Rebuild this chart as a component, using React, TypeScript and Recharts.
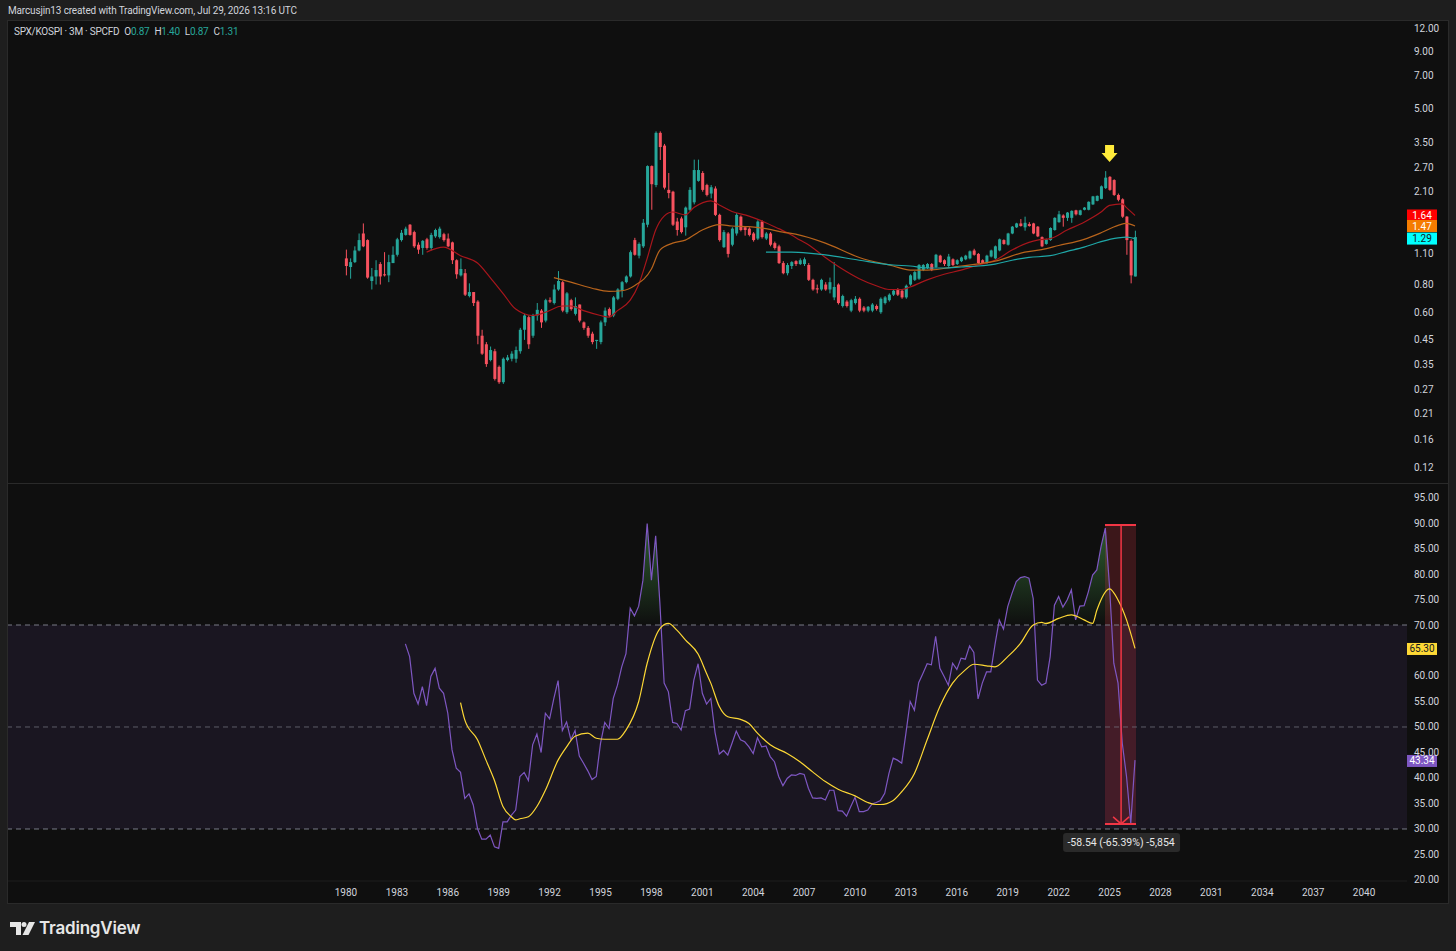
import React from "react";
import {
    ComposedChart,
    Bar,
    Line,
    Area,
    XAxis,
    YAxis,
    ReferenceArea,
    ReferenceLine,
    ReferenceDot,
} from "recharts";

// quarterly bars, bar 0 = 1980 Q1
const FIRST_YEAR = 1980;
const QUARTER = 0.25;

const opens = [
    1.05, 0.96, 1.01, 1.14, 1.36, 1.27, 0.83, 0.87, 0.99, 0.89,
    0.88, 1.00, 1.09, 1.27, 1.34, 1.49, 1.38, 1.21, 1.17, 1.28,
    1.17, 1.32, 1.31, 1.35, 1.29, 1.24, 1.03, 0.88, 0.90, 0.71,
    0.74, 0.67, 0.47, 0.43, 0.365, 0.40, 0.34, 0.29, 0.365, 0.37,
    0.37, 0.40, 0.50, 0.57, 0.47, 0.58, 0.61, 0.55, 0.68, 0.66,
    0.76, 0.82, 0.60, 0.68, 0.59, 0.65, 0.54, 0.51, 0.48, 0.445,
    0.44, 0.54, 0.62, 0.58, 0.69, 0.75, 0.82, 0.87, 1.27, 1.08,
    1.19, 1.49, 2.74, 2.25, 3.87, 3.39, 2.14, 2.10, 1.54, 1.59,
    1.45, 1.74, 1.88, 2.35, 2.55, 2.25, 2.06, 2.17, 1.65, 1.18,
    1.36, 1.21, 1.36, 1.62, 1.45, 1.43, 1.36, 1.29, 1.54, 1.29,
    1.36, 1.23, 1.19, 1.00, 0.90, 0.97, 1.02, 0.99, 0.99, 0.98,
    0.84, 0.77, 0.76, 0.80, 0.76, 0.70, 0.80, 0.64, 0.67, 0.61,
    0.66, 0.69, 0.63, 0.61, 0.61, 0.64, 0.60, 0.66, 0.68, 0.72,
    0.755, 0.75, 0.70, 0.80, 0.84, 0.85, 0.93, 0.95, 0.99, 0.96,
    1.08, 1.03, 0.97, 1.04, 0.99, 1.02, 1.04, 1.05, 1.14, 1.10,
    1.03, 1.00, 1.07, 1.05, 1.14, 1.27, 1.21, 1.36, 1.45, 1.51,
    1.45, 1.50, 1.51, 1.46, 1.31, 1.22, 1.27, 1.41, 1.53, 1.64,
    1.60, 1.60, 1.73, 1.65, 1.74, 1.74, 1.84, 1.91, 1.95, 2.18,
    2.45, 2.37, 2.03, 1.94, 1.62, 1.26, 0.87,
];
const highs = [
    1.15, 1.05, 1.19, 1.36, 1.51, 1.28, 0.95, 1.03, 1.01, 1.12,
    1.09, 1.19, 1.30, 1.41, 1.46, 1.50, 1.40, 1.24, 1.27, 1.30,
    1.37, 1.43, 1.46, 1.37, 1.36, 1.25, 1.04, 1.05, 0.94, 0.81,
    0.74, 0.68, 0.50, 0.44, 0.42, 0.41, 0.345, 0.375, 0.385, 0.40,
    0.42, 0.51, 0.59, 0.58, 0.59, 0.66, 0.62, 0.69, 0.70, 0.80,
    0.92, 0.83, 0.74, 0.69, 0.70, 0.65, 0.545, 0.52, 0.49, 0.45,
    0.55, 0.63, 0.63, 0.71, 0.77, 0.83, 0.88, 1.14, 1.30, 1.24,
    1.58, 2.76, 2.76, 3.93, 3.93, 3.45, 2.55, 2.12, 1.60, 1.62,
    1.80, 2.20, 2.93, 2.93, 2.60, 2.28, 2.25, 2.22, 1.67, 1.41,
    1.38, 1.45, 1.68, 1.64, 1.47, 1.45, 1.38, 1.56, 1.56, 1.38,
    1.38, 1.25, 1.21, 1.02, 1.00, 1.02, 1.03, 1.05, 1.06, 1.00,
    0.85, 0.80, 0.85, 0.82, 0.86, 1.01, 0.81, 0.72, 0.68, 0.69,
    0.71, 0.70, 0.64, 0.64, 0.66, 0.65, 0.70, 0.71, 0.73, 0.76,
    0.77, 0.76, 0.80, 0.89, 0.92, 0.99, 0.99, 1.00, 1.00, 1.10,
    1.09, 1.04, 1.10, 1.05, 1.04, 1.07, 1.09, 1.14, 1.16, 1.11,
    1.04, 1.09, 1.15, 1.20, 1.29, 1.28, 1.37, 1.47, 1.52, 1.58,
    1.62, 1.53, 1.52, 1.47, 1.32, 1.29, 1.45, 1.61, 1.72, 1.66,
    1.70, 1.73, 1.74, 1.74, 1.79, 1.90, 2.01, 2.02, 2.24, 2.60,
    2.47, 2.39, 2.06, 1.96, 1.63, 1.28, 1.40,
];
const lows = [
    0.88, 0.85, 1.00, 1.13, 1.18, 0.85, 0.76, 0.80, 0.80, 0.87,
    0.82, 1.00, 1.07, 1.25, 1.33, 1.33, 1.17, 1.10, 1.09, 1.15,
    1.14, 1.30, 1.29, 1.25, 1.18, 0.99, 0.85, 0.87, 0.71, 0.70,
    0.64, 0.43, 0.385, 0.34, 0.36, 0.295, 0.285, 0.285, 0.36, 0.36,
    0.355, 0.39, 0.45, 0.41, 0.46, 0.55, 0.51, 0.54, 0.66, 0.65,
    0.75, 0.60, 0.59, 0.61, 0.58, 0.54, 0.50, 0.46, 0.43, 0.41,
    0.43, 0.52, 0.57, 0.57, 0.68, 0.70, 0.81, 0.86, 1.08, 1.05,
    1.17, 1.45, 1.74, 2.20, 2.92, 2.15, 1.96, 1.47, 1.33, 1.36,
    1.33, 1.72, 1.84, 2.33, 2.10, 2.00, 1.96, 1.63, 1.25, 1.17,
    1.06, 1.19, 1.33, 1.39, 1.33, 1.32, 1.25, 1.27, 1.29, 1.27,
    1.19, 1.15, 0.99, 0.89, 0.88, 0.94, 0.97, 0.98, 0.97, 0.83,
    0.75, 0.73, 0.75, 0.75, 0.73, 0.68, 0.65, 0.63, 0.63, 0.60,
    0.65, 0.60, 0.60, 0.60, 0.60, 0.61, 0.59, 0.65, 0.67, 0.71,
    0.71, 0.69, 0.69, 0.79, 0.83, 0.84, 0.92, 0.94, 0.92, 0.95,
    1.00, 0.97, 0.95, 0.97, 0.98, 1.01, 1.03, 1.04, 1.08, 0.99,
    0.99, 0.99, 1.06, 1.04, 1.13, 1.21, 1.20, 1.35, 1.44, 1.46,
    1.40, 1.46, 1.35, 1.31, 1.18, 1.21, 1.26, 1.40, 1.52, 1.46,
    1.55, 1.52, 1.64, 1.64, 1.73, 1.73, 1.83, 1.90, 1.94, 2.16,
    2.12, 2.01, 1.90, 1.60, 1.09, 0.81, 0.87,
];
const closes = [
    0.97, 1.01, 1.14, 1.27, 1.19, 0.86, 0.87, 0.93, 0.87, 0.88,
    1.01, 1.09, 1.28, 1.37, 1.43, 1.34, 1.19, 1.15, 1.26, 1.17,
    1.34, 1.41, 1.43, 1.27, 1.19, 1.03, 0.89, 0.94, 0.72, 0.74,
    0.66, 0.47, 0.39, 0.35, 0.405, 0.30, 0.29, 0.37, 0.375, 0.39,
    0.405, 0.50, 0.58, 0.43, 0.58, 0.615, 0.54, 0.68, 0.67, 0.76,
    0.83, 0.61, 0.73, 0.62, 0.64, 0.55, 0.51, 0.47, 0.44, 0.45,
    0.54, 0.61, 0.58, 0.70, 0.76, 0.82, 0.87, 1.12, 1.09, 1.22,
    1.52, 2.74, 2.27, 3.87, 3.34, 2.19, 2.07, 1.49, 1.41, 1.38,
    1.78, 2.14, 2.63, 2.63, 2.14, 2.03, 2.20, 1.65, 1.27, 1.38,
    1.10, 1.43, 1.65, 1.41, 1.41, 1.34, 1.27, 1.54, 1.31, 1.36,
    1.21, 1.17, 1.00, 0.90, 0.98, 1.01, 0.99, 1.03, 1.04, 0.84,
    0.76, 0.76, 0.84, 0.76, 0.82, 0.78, 0.66, 0.71, 0.64, 0.68,
    0.69, 0.61, 0.61, 0.635, 0.65, 0.62, 0.69, 0.70, 0.72, 0.75,
    0.72, 0.70, 0.79, 0.88, 0.91, 0.98, 0.98, 0.99, 0.93, 1.09,
    1.01, 0.99, 1.07, 0.98, 1.03, 1.06, 1.08, 1.13, 1.09, 1.00,
    1.00, 1.08, 1.14, 1.19, 1.28, 1.22, 1.36, 1.46, 1.51, 1.47,
    1.52, 1.47, 1.36, 1.32, 1.19, 1.28, 1.44, 1.60, 1.66, 1.60,
    1.69, 1.72, 1.66, 1.73, 1.78, 1.89, 2.00, 2.01, 2.22, 2.43,
    2.14, 2.03, 1.93, 1.62, 1.27, 0.88, 1.31,
];

// moving averages: [bar index, value]
const maFast: [number, number][] = [
    [19, 1.12], [23, 1.18], [27, 1.08], [31, 1.0], [34, 0.86], [37, 0.73], [40, 0.62],
    [44, 0.58], [47, 0.6], [51, 0.64], [53, 0.64], [56, 0.61], [60, 0.58], [62, 0.57],
    [64, 0.61], [67, 0.68], [69, 0.8], [71, 1.05], [73, 1.41], [75, 1.63], [77, 1.7],
    [80, 1.65], [82, 1.78], [86, 1.91], [88, 1.83], [91, 1.71], [95, 1.63], [98, 1.55],
    [102, 1.43], [105, 1.34], [107, 1.27], [109, 1.21], [113, 1.06], [117, 0.94],
    [121, 0.85], [125, 0.79], [128, 0.76], [131, 0.76], [133, 0.78], [137, 0.84],
    [141, 0.89], [145, 0.93], [149, 0.98], [153, 1.03], [157, 1.145], [161, 1.24],
    [163, 1.27], [166, 1.29], [170, 1.41], [174, 1.53], [178, 1.7], [180, 1.82],
    [183, 1.85], [184, 1.78], [186, 1.64],
];
const maMid: [number, number][] = [
    [49, 0.86], [53, 0.82], [58, 0.77], [62, 0.745], [65, 0.75], [68, 0.79], [72, 0.94],
    [74, 1.145], [77, 1.23], [80, 1.27], [84, 1.41], [88, 1.49], [91, 1.47], [95, 1.46],
    [99, 1.43], [103, 1.38], [106, 1.35], [113, 1.23], [121, 1.06], [129, 0.97],
    [133, 0.93], [137, 0.93], [145, 0.97], [153, 1.02], [160, 1.12], [164, 1.15],
    [168, 1.2], [174, 1.28], [178, 1.37], [182, 1.48], [184, 1.51], [186, 1.47],
];
const maSlow: [number, number][] = [
    [99, 1.12], [105, 1.12], [109, 1.11], [113, 1.09], [121, 1.03], [129, 0.98],
    [133, 0.97], [137, 0.95], [141, 0.95], [145, 0.96], [149, 0.97], [153, 0.99],
    [157, 1.03], [161, 1.06], [166, 1.08], [170, 1.13], [174, 1.18], [178, 1.25],
    [182, 1.3], [184, 1.31], [186, 1.29],
];

// RSI, first value on bar 14
const RSI_FIRST_BAR = 14;
const rsiValues = [
    66.3, 63.8, 56.6, 54.5, 57.9, 54.2, 59.9, 61.5, 57.6, 56.6,
    52.7, 45.5, 41.9, 41.1, 36.0, 36.9, 34.7, 30.1, 28.0, 28.0,
    28.8, 26.5, 26.2, 31.4, 31.4, 32.7, 33.7, 40.3, 41.1, 39.5,
    46.5, 48.6, 45.0, 52.7, 51.6, 55.6, 59.1, 49.3, 51.0, 47.5,
    49.3, 44.3, 42.9, 41.4, 39.7, 40.3, 46.8, 50.9, 49.7, 55.6,
    58.2, 61.8, 64.4, 73.3, 71.8, 73.7, 78.8, 89.9, 78.8, 87.5,
    74.2, 58.6, 56.9, 50.9, 50.7, 49.4, 53.2, 53.5, 59.2, 62.4,
    56.6, 54.5, 55.6, 48.9, 44.7, 45.4, 44.5, 46.8, 49.2, 47.5,
    47.1, 46.1, 44.8, 47.9, 46.1, 46.3, 44.2, 43.2, 40.3, 38.5,
    39.9, 40.6, 40.5, 40.9, 40.7, 38.0, 36.1, 36.0, 36.1, 35.7,
    37.6, 37.6, 33.6, 33.5, 32.5, 34.4, 36.2, 33.4, 33.4, 33.7,
    34.9, 35.2, 35.6, 37.0, 40.9, 43.9, 43.5, 42.9, 48.8, 55.0,
    53.3, 58.7, 60.5, 62.4, 62.2, 67.8, 61.5, 59.9, 58.2, 62.5,
    61.3, 63.5, 63.3, 65.9, 64.6, 55.5, 58.6, 60.8, 60.8, 66.2,
    71.0, 69.2, 73.6, 76.2, 78.5, 79.3, 79.5, 79.2, 75.2, 59.2,
    58.2, 58.6, 63.8, 73.9, 75.6, 73.5, 74.9, 76.9, 71.0, 73.7,
    73.8, 76.5, 79.8, 80.8, 85.4, 89.0, 77.5, 62.5, 58.6, 46.8,
    40.3, 31.1, 43.5,
];
// RSI-based MA: [bar index, value]
const rsiMa: [number, number][] = [
    [27, 54.8], [28, 51.4], [31, 47.5], [33, 43.5], [35, 39.5], [37, 34.4], [39, 32.4],
    [40, 31.8], [41, 32.0], [43, 32.4], [45, 34.4], [47, 37.6], [50, 43.5], [52, 46.1],
    [54, 48.2], [57, 48.8], [59, 47.8], [61, 47.6], [64, 47.6], [66, 49.4], [69, 55.0],
    [71, 62.5], [74, 69.3], [76, 70.3], [78, 69.0], [80, 67.1], [83, 64.3], [85, 60.5],
    [86, 58.6], [88, 54.0], [90, 52.0], [93, 51.5], [95, 50.7], [97, 48.8], [100, 46.5],
    [104, 44.8], [107, 43.2], [110, 41.2], [113, 39.3], [116, 37.8], [120, 36.5],
    [123, 35.2], [125, 34.8], [126, 34.8], [129, 35.6], [131, 37.3], [134, 40.9],
    [137, 47.5], [140, 54.0], [143, 58.6], [146, 61.2], [148, 62.3], [151, 62.0],
    [153, 61.8], [156, 63.8], [159, 66.4], [162, 70.0], [164, 70.5], [165, 70.3],
    [168, 71.3], [171, 72.0], [172, 71.8], [174, 71.0], [176, 70.3], [177, 72.9],
    [180, 77.1], [182, 74.9], [184, 71.0], [186, 65.4],
];

const yearTicks = [1980, 1983, 1986, 1989, 1992, 1995, 1998, 2001, 2004, 2007, 2010,
    2013, 2016, 2019, 2022, 2025, 2028, 2031, 2034, 2037, 2040];
const priceTicks = [12, 9, 7, 5, 3.5, 2.7, 2.1, 1.1, 0.8, 0.6, 0.45, 0.35, 0.27, 0.21, 0.16, 0.12];
const rsiTicks = [95, 90, 85, 80, 75, 70, 60, 55, 50, 45, 40, 35, 30, 25, 20];

const maTags = [
    {value: 1.64, bg: "#ff0000", fg: "#ffffff"},
    {value: 1.47, bg: "#f57c00", fg: "#ffffff"},
    {value: 1.29, bg: "#00ffff", fg: "#131722"},
];
const rsiTags = [
    {value: 65.3, bg: "#fdd835", fg: "#131722"},
    {value: 43.34, bg: "#7e57c2", fg: "#ffffff"},
];
const peakMark = {t: 2025.0, price: 3.14};
const measure = {from: 2024.73, to: 2026.56, top: 89.6, bottom: 31.0, at: 2025.68, text: "-58.54 (-65.39%) -5,854"};

// layout
const X_MIN = 1960.08;
const X_MAX = 2042.53;
const PRICE_MIN = 0.1017;
const PRICE_MAX = 12.25;
const RSI_MIN = 19.8;
const RSI_MAX = 97.65;
const W = 1440;
const TOP_H = 462;
const BOT_H = 419;
const AXIS_W = 41;
const TIME_H = 22;
const RSI_PLOT_H = BOT_H - TIME_H;
const FONT = 'Roboto, "Noto Sans", Arial, sans-serif';
const TEXT = "#d1d4dc";
const UP = "#26a69a";
const DOWN = "#f7525f";

const barTime = (i: number) => FIRST_YEAR + i * QUARTER;

const priceRows: any[] = closes.map((c, i) => ({
    t: barTime(i),
    o: opens[i],
    h: highs[i],
    l: lows[i],
    c,
    range: [lows[i], highs[i]],
}));
maFast.forEach(([i, v]) => (priceRows[i].fast = v));
maMid.forEach(([i, v]) => (priceRows[i].mid = v));
maSlow.forEach(([i, v]) => (priceRows[i].slow = v));

const rsiRows: any[] = closes.map((_, i) => ({
    t: barTime(i),
    rsi: i >= RSI_FIRST_BAR ? rsiValues[i - RSI_FIRST_BAR] : undefined,
}));
rsiMa.forEach(([i, v]) => (rsiRows[i].ma = v));

const last = closes.length - 1;

function Candle(props: any) {
    const {x, y, width, height, payload} = props;
    if (x == null || y == null || !payload) return null;
    const top = Math.min(y, y + height);
    const bottom = Math.max(y, y + height);
    const {o, h, l, c} = payload;
    const span = Math.log(h) - Math.log(l) || 1;
    const toPx = (v: number) => top + ((Math.log(h) - Math.log(v)) / span) * (bottom - top);
    const color = c >= o ? UP : DOWN;
    const bodyTop = toPx(Math.max(o, c));
    const bodyBot = toPx(Math.min(o, c));
    const cx = x + width / 2;
    return (
        <g>
            <line x1={cx} x2={cx} y1={top} y2={bottom} stroke={color} strokeWidth={1} />
            <rect x={cx - 1.5} y={bodyTop} width={3} height={Math.max(1, bodyBot - bodyTop)} fill={color} />
        </g>
    );
}

// price labels keep clear of the pane's top edge
const axisTick = (fmt: (v: number) => string, minY = 0) => (p: any) => (
    <text x={W - AXIS_W + 7} y={Math.max(p.y, minY)} dominantBaseline="central" fontSize={10} fill={TEXT} fontFamily={FONT}>
        {fmt(p.payload.value)}
    </text>
);

const timeTick = (p: any) => (
    <text x={p.x} y={RSI_PLOT_H + 11} dominantBaseline="central" textAnchor="middle" fontSize={10} fill={TEXT} fontFamily={FONT}>
        {p.payload.value}
    </text>
);

const tagShape = (text: string, bg: string, fg: string) => (p: any) => (
    <g>
        <rect x={p.cx} y={p.cy - 6} width={30} height={12} fill={bg} />
        <text x={p.cx + 15} y={p.cy} dominantBaseline="central" textAnchor="middle" fontSize={10} fill={fg} fontFamily={FONT}>
            {text}
        </text>
    </g>
);

const arrowShape = (p: any) => (
    <polygon
        points={`${p.cx - 4.5},${p.cy - 8} ${p.cx + 4.5},${p.cy - 8} ${p.cx + 4.5},${p.cy} ${p.cx + 8},${p.cy} ${p.cx},${p.cy + 9} ${p.cx - 8},${p.cy} ${p.cx - 4.5},${p.cy}`}
        fill="#ffeb3b"
    />
);

const measureEnd = (p: any) => (
    <g>
        <polyline points={`${p.cx - 8},${p.cy - 7} ${p.cx},${p.cy} ${p.cx + 8},${p.cy - 7}`} fill="none" stroke="#f23645" strokeWidth={1.5} />
        <rect x={p.cx - 58} y={p.cy + 9} width={117} height={19} rx={3} fill="#2a2a2a" />
        <text x={p.cx} y={p.cy + 18.5} dominantBaseline="central" textAnchor="middle" fontSize={10.5} fill="#e8e8e8" fontFamily={FONT}>
            {measure.text}
        </text>
    </g>
);

function PricePane() {
    return (
        <ComposedChart width={W} height={TOP_H} data={priceRows} margin={{top: 1, right: 0, bottom: 0, left: 0}}>
            <XAxis type="number" dataKey="t" domain={[X_MIN, X_MAX]} allowDataOverflow hide />
            <YAxis
                orientation="right"
                scale="log"
                domain={[PRICE_MIN, PRICE_MAX]}
                allowDataOverflow
                ticks={priceTicks}
                interval={0}
                width={AXIS_W}
                axisLine={false}
                tickLine={false}
                tick={axisTick((v) => v.toFixed(2), 7)}
            />
            <Bar dataKey="range" barSize={3} shape={(p: any) => <Candle {...p} />} isAnimationActive={false} />
            <Line dataKey="fast" type="monotone" stroke="#a8161c" strokeWidth={1.2} dot={false} connectNulls isAnimationActive={false} />
            <Line dataKey="mid" type="monotone" stroke="#b8641c" strokeWidth={1.2} dot={false} connectNulls isAnimationActive={false} />
            <Line dataKey="slow" type="monotone" stroke="#1fa8a8" strokeWidth={1.2} dot={false} connectNulls isAnimationActive={false} />
            <ReferenceDot x={peakMark.t} y={peakMark.price} ifOverflow="visible" shape={arrowShape} />
            {maTags.map((m) => (
                <ReferenceDot key={m.value} x={X_MAX} y={m.value} ifOverflow="visible" shape={tagShape(m.value.toFixed(2), m.bg, m.fg)} />
            ))}
        </ComposedChart>
    );
}

const ry = (v: number) => ((RSI_MAX - v) / (RSI_MAX - RSI_MIN)) * RSI_PLOT_H;

function RsiPane() {
    return (
        <ComposedChart width={W} height={BOT_H} data={rsiRows} margin={{top: 0, right: 0, bottom: 0, left: 0}}>
            <defs>
                <linearGradient id="obos" gradientUnits="userSpaceOnUse" x1={0} x2={0} y1={ry(100)} y2={ry(0)}>
                    <stop offset={0} stopColor="#4caf50" stopOpacity={0.75} />
                    <stop offset={0.3} stopColor="#4caf50" stopOpacity={0} />
                    <stop offset={0.7} stopColor="#f23645" stopOpacity={0} />
                    <stop offset={1} stopColor="#f23645" stopOpacity={0.6} />
                </linearGradient>
            </defs>
            <XAxis
                type="number"
                dataKey="t"
                domain={[X_MIN, X_MAX]}
                allowDataOverflow
                ticks={yearTicks}
                interval={0}
                height={TIME_H}
                axisLine={{stroke: "#1f1f1f"}}
                tickLine={false}
                tick={timeTick}
            />
            <YAxis
                orientation="right"
                domain={[RSI_MIN, RSI_MAX]}
                allowDataOverflow
                ticks={rsiTicks}
                interval={0}
                width={AXIS_W}
                axisLine={false}
                tickLine={false}
                tick={axisTick((v) => v.toFixed(2))}
            />
            <ReferenceArea y1={30} y2={70} fill="#7e57c2" fillOpacity={0.1} stroke="none" />
            <ReferenceLine y={70} stroke="#787b86" strokeDasharray="5 4" />
            <ReferenceLine y={50} stroke="#787b86" strokeDasharray="5 4" strokeOpacity={0.7} />
            <ReferenceLine y={30} stroke="#787b86" strokeDasharray="5 4" />
            <Area dataKey="rsi" baseValue={70} type="linear" stroke="none" fill="url(#obos)" fillOpacity={1} isAnimationActive={false} />
            <Line dataKey="rsi" type="linear" stroke="#7e57c2" strokeWidth={1.2} dot={false} isAnimationActive={false} />
            <Line dataKey="ma" type="monotone" stroke="#fdd835" strokeWidth={1.2} dot={false} connectNulls isAnimationActive={false} />
            <ReferenceArea x1={measure.from} x2={measure.to} y1={measure.bottom} y2={measure.top} fill="#f23645" fillOpacity={0.2} stroke="none" />
            <ReferenceLine segment={[{x: measure.from, y: measure.top}, {x: measure.to, y: measure.top}]} stroke="#f23645" strokeWidth={2} />
            <ReferenceLine segment={[{x: measure.from, y: measure.bottom}, {x: measure.to, y: measure.bottom}]} stroke="#f23645" strokeWidth={2} />
            <ReferenceLine segment={[{x: measure.at, y: measure.top}, {x: measure.at, y: measure.bottom}]} stroke="#f23645" strokeWidth={1.5} />
            <ReferenceDot x={measure.at} y={measure.bottom} ifOverflow="visible" shape={measureEnd} />
            {rsiTags.map((m) => (
                <ReferenceDot key={m.value} x={X_MAX} y={m.value} ifOverflow="visible" shape={tagShape(m.value.toFixed(2), m.bg, m.fg)} />
            ))}
        </ComposedChart>
    );
}

export default function App() {
    const val = {color: UP};
    const gap = {marginLeft: 5};
    return (
        <div style={{position: "absolute", left: 0, top: 0, width: 1456, height: 951, background: "#1e1e1e", overflow: "hidden", fontFamily: FONT}}>
            <div style={{position: "absolute", left: 8, top: 4, fontSize: 10, letterSpacing: -0.15, lineHeight: "14px", color: TEXT, whiteSpace: "nowrap"}}>
                Marcusjin13 created with TradingView.com, Jul 29, 2026 13:16 UTC
            </div>
            <div style={{position: "absolute", left: 8, top: 21, width: W, height: 882, background: "#0f0f0f", outline: "1px solid #2a2a2a"}}>
                <div style={{position: "absolute", left: 0, top: 0}}>
                    <PricePane />
                </div>
                <div style={{position: "absolute", left: 0, top: TOP_H, width: W, height: 1, background: "#2a2a2a"}} />
                <div style={{position: "absolute", left: 0, top: TOP_H + 1}}>
                    <RsiPane />
                </div>
                <div style={{position: "absolute", left: 6, top: 5, fontSize: 10, letterSpacing: -0.25, lineHeight: "12px", color: TEXT, whiteSpace: "nowrap"}}>
                    <span>SPX/KOSPI · 3M · SPCFD</span>
                    <span style={gap}>O<span style={val}>{opens[last].toFixed(2)}</span></span>
                    <span style={gap}>H<span style={val}>{highs[last].toFixed(2)}</span></span>
                    <span style={gap}>L<span style={val}>{lows[last].toFixed(2)}</span></span>
                    <span style={gap}>C<span style={val}>{closes[last].toFixed(2)}</span></span>
                </div>
            </div>
            <div style={{position: "absolute", left: 10, top: 918, display: "flex", alignItems: "center", color: "#e6e6e6"}}>
                <svg width={25} height={13} viewBox="0 0 25 13">
                    <path d="M0 0 H11 V13 H6 V5 H0 Z" fill="#e6e6e6" />
                    <circle cx={14} cy={2.5} r={2.5} fill="#e6e6e6" />
                    <polygon points="19,0 25,0 18.5,13 12.5,13" fill="#e6e6e6" />
                </svg>
                <span style={{marginLeft: 4, fontFamily: "Inter, Roboto, sans-serif", fontWeight: 600, fontSize: 17, letterSpacing: -0.2}}>TradingView</span>
            </div>
        </div>
    );
}
